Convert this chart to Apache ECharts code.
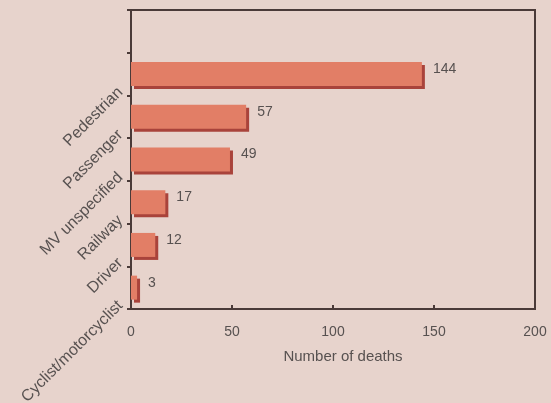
<!DOCTYPE html>
<html>
<head>
<meta charset="utf-8">
<script src="https://cdn.jsdelivr.net/npm/echarts@6/dist/echarts.min.js"></script>
<style>
html,body{margin:0;padding:0;background:#E7D3CC;}
#c{width:551px;height:403px;}
</style>
</head>
<body>
<div id="c"></div>
<script>
// Data (top to bottom as shown)
var categories = ['Pedestrian', 'Passenger', 'MV unspecified', 'Railway', 'Driver', 'Cyclist/motorcyclist'];
var deaths = [144, 57, 49, 17, 12, 3];
var xTicks = [0, 50, 100, 150, 200];

var chart = echarts.init(document.getElementById('c'));
var barAxisData = [''].concat(categories);
var labelAxisData = ['', ''].concat(categories);
var txt = '#575150';
var line = '#4a3a38';

chart.setOption({
  backgroundColor: '#E7D3CC',
  animation: false,
  grid: {
    left: 131, right: 16, top: 10, bottom: 94,
    outerBoundsMode: 'none',
    containLabel: false,
    show: true, borderColor: line, borderWidth: 2, backgroundColor: 'transparent'
  },
  xAxis: {
    type: 'value',
    min: xTicks[0], max: xTicks[xTicks.length - 1], interval: 50,
    name: 'Number of deaths',
    nameLocation: 'middle', nameGap: 40,
    nameTextStyle: { color: txt, fontSize: 15, fontFamily: 'Liberation Sans', padding: [0, 0, 0, 20] },
    splitLine: { show: false },
    axisLine: { show: true, lineStyle: { color: line, width: 2 } },
    axisTick: { show: true, inside: true, length: 4, lineStyle: { color: line, width: 2 } },
    axisLabel: { color: txt, fontSize: 14, fontFamily: 'Liberation Sans', margin: 16 }
  },
  yAxis: [
    {
      type: 'category',
      inverse: true,
      data: barAxisData,
      axisLine: { show: true, lineStyle: { color: line, width: 2 } },
      axisTick: { show: true, inside: false, length: 4, interval: 0, lineStyle: { color: line, width: 2 } },
      axisLabel: { show: false },
      splitLine: { show: false }
    },
    {
      type: 'category',
      position: 'left',
      inverse: true,
      boundaryGap: false,
      data: labelAxisData,
      axisLine: { show: false },
      axisTick: { show: false },
      splitLine: { show: false },
      axisLabel: {
        show: true, interval: 0, rotate: 45, margin: 5,
        verticalAlign: 'bottom',
        color: txt, fontSize: 16, fontFamily: 'Liberation Sans'
      }
    }
  ],
  series: [{
    type: 'bar',
    yAxisIndex: 0,
    data: [null].concat(deaths),
    barWidth: 24,
    itemStyle: {
      color: '#E27E66',
      shadowColor: '#A9433B',
      shadowOffsetX: 3,
      shadowOffsetY: 3,
      shadowBlur: 0
    },
    label: {
      show: true, position: 'right', distance: 11, offset: [0, -5],
      color: txt, fontSize: 14, fontFamily: 'Liberation Sans'
    }
  }]
});
</script>
</body>
</html>
